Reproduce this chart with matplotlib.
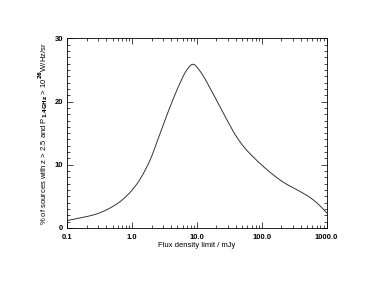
import numpy as np
import matplotlib
matplotlib.use('Agg')
import matplotlib.pyplot as pl
from matplotlib.ticker import FixedLocator, NullFormatter, MultipleLocator

# flux density limit (mJy) and percentage
flux = [0.1, 0.18, 0.29, 0.466, 0.745, 1.06, 1.31, 1.51, 1.87, 2.67, 3.80,
        5.42, 6.87, 8.8, 11.0, 17.6, 28.3, 40.4, 54.2, 72.8, 131, 210, 380,
        542, 773, 1000]
frac = [1.17, 1.7, 2.25, 3.2, 4.65, 6.3, 7.6, 8.7, 10.6, 14.8, 19.0,
        22.8, 24.9, 25.9, 24.9, 21.3, 17.3, 14.5, 12.7, 11.3, 8.9, 7.3, 5.84,
        4.9, 3.6, 2.4]

xticks = [0.1, 1.0, 10.0, 100.0, 1000.0]
xticklabels = ['0.1', '1.0', '10.0', '100.0', '1000.0']
yticks = [0, 10, 20, 30]

pl.rcParams['font.family'] = ['Liberation Sans', 'DejaVu Sans']
pl.rcParams['font.weight'] = 'bold'
pl.rcParams['mathtext.default'] = 'bf'
fs = 5.5

fig = pl.figure(figsize=(3.65, 2.82), dpi=100)
ax = fig.add_axes([0.184, 0.1915, 0.711, 0.6725])

# cubic hermite through the read points (log x)
lx = np.log10(flux)
fy = np.array(frac)
dy = np.gradient(fy, lx)
xs = np.linspace(lx[0], lx[-1], 600)
i = np.clip(np.searchsorted(lx, xs) - 1, 0, len(lx) - 2)
h = lx[i+1] - lx[i]
t = (xs - lx[i]) / h
ys = ((2*t**3 - 3*t**2 + 1)*fy[i] + (t**3 - 2*t**2 + t)*h*dy[i]
      + (-2*t**3 + 3*t**2)*fy[i+1] + (t**3 - t**2)*h*dy[i+1])
ax.plot(10**xs, ys, color='#333333', linewidth=0.7)

ax.set_xscale('log')
ax.set_xlim(0.1, 1000)
ax.set_ylim(0, 30)
ax.xaxis.set_major_locator(FixedLocator(xticks))
ax.set_xticklabels(xticklabels)
minors = [m*10.0**e for e in range(-1, 3) for m in range(2, 10)]
ax.xaxis.set_minor_locator(FixedLocator(minors))
ax.xaxis.set_minor_formatter(NullFormatter())
ax.set_yticks(yticks)
ax.yaxis.set_minor_locator(MultipleLocator(1))

ax.tick_params(which='both', direction='in', top=True, right=True,
               labelsize=fs, width=0.5)
ax.tick_params(axis='x', pad=4)
ax.tick_params(axis='y', pad=3)
ax.tick_params(which='major', length=4)
ax.tick_params(which='minor', length=2)
for s in ax.spines.values():
    s.set_linewidth(0.6)

ax.set_xlabel('Flux density limit / mJy', fontsize=fs, labelpad=1)
ax.set_ylabel('% of sources with z > 2.5 and P$_{1.4GHz}$ > 10$^{26}$W/Hz/sr',
              fontsize=fs, labelpad=3)

fig.savefig('out.png', dpi=100)
